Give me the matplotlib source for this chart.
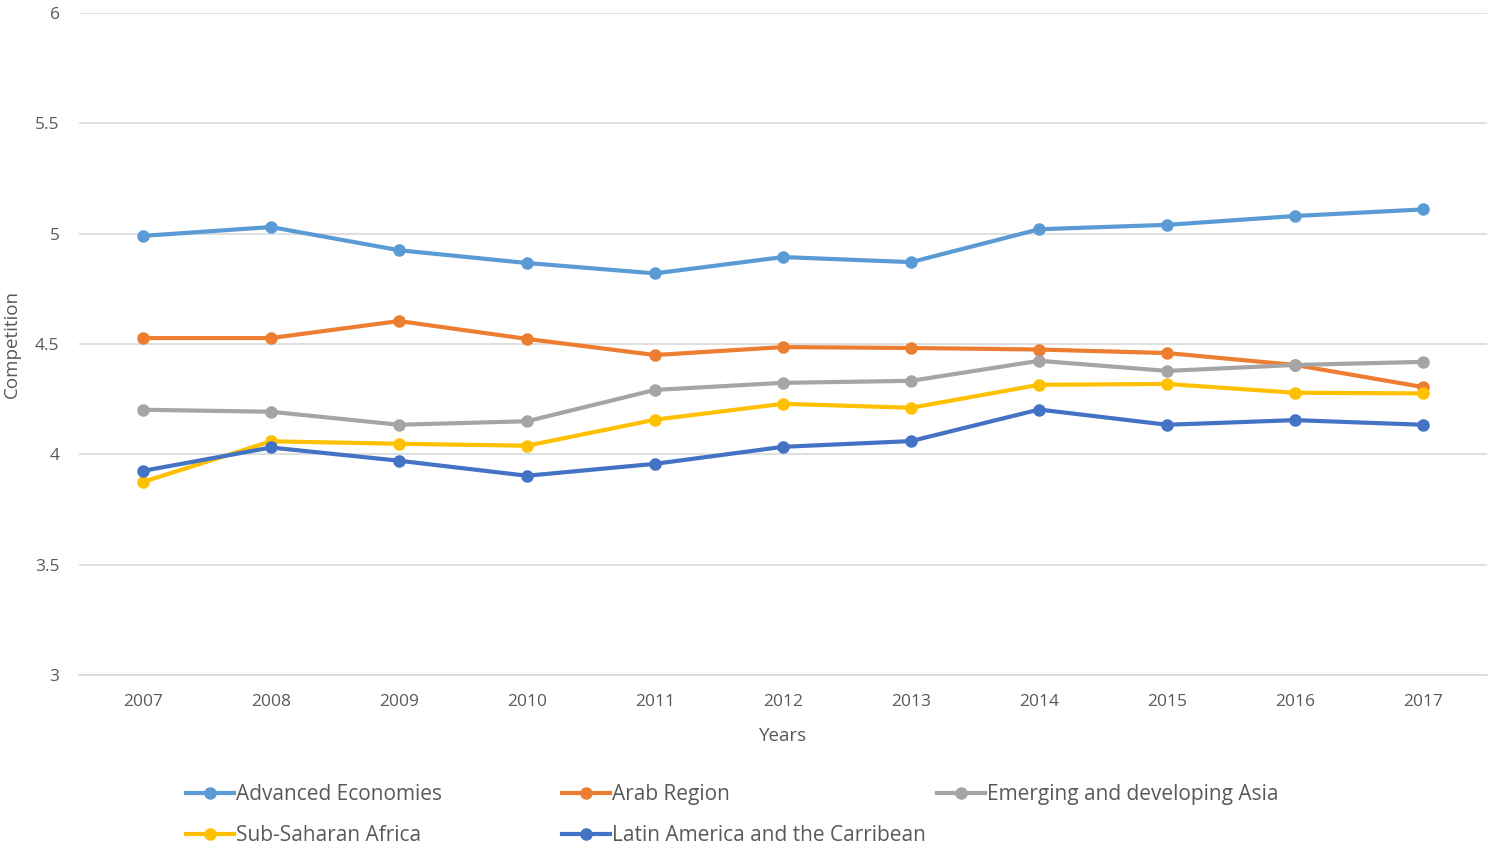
import matplotlib.pyplot as plt
from matplotlib.lines import Line2D

years = ['2007', '2008', '2009', '2010', '2011', '2012', '2013', '2014', '2015', '2016', '2017']

advanced = [4.99, 5.03, 4.925, 4.867, 4.82, 4.894, 4.871, 5.02, 5.04, 5.08, 5.11]
arab = [4.527, 4.527, 4.604, 4.523, 4.45, 4.486, 4.482, 4.475, 4.459, 4.405, 4.305]
asia = [4.202, 4.193, 4.134, 4.15, 4.292, 4.324, 4.333, 4.424, 4.378, 4.405, 4.419]
ssa = [3.875, 4.059, 4.048, 4.039, 4.157, 4.229, 4.211, 4.315, 4.319, 4.279, 4.276]
latam = [3.925, 4.031, 3.971, 3.903, 3.957, 4.034, 4.06, 4.203, 4.134, 4.155, 4.134]

series = [
    ('Advanced Economies', advanced, '#5B9BD5'),
    ('Arab Region', arab, '#ED7D31'),
    ('Emerging and developing Asia', asia, '#A5A5A5'),
    ('Sub-Saharan Africa', ssa, '#FFC000'),
    ('Latin America and the Carribean', latam, '#4472C4'),
]

plt.rcParams['font.family'] = ['Open Sans', 'DejaVu Sans']
txt = '#595959'

fig = plt.figure(figsize=(14.89, 8.49), dpi=100)
ax = fig.add_axes([79 / 1489, 1 - 675 / 849, 1408 / 1489, 662 / 849])

x = list(range(len(years)))
for name, vals, col in series:
    ax.plot(x, vals, color=col, linewidth=3, marker='o', markersize=8, label=name, zorder=3)

ax.set_xlim(-0.5, len(years) - 0.5)
ax.set_ylim(3, 6)
ax.set_yticks([3, 3.5, 4, 4.5, 5, 5.5, 6])
ax.set_yticklabels(['3', '3.5', '4', '4.5', '5', '5.5', '6'])
ax.set_xticks(x)
ax.set_xticklabels(years)
ax.grid(axis='y', color='#D9D9D9', linewidth=1.2)
ax.set_axisbelow(True)
for s in ['top', 'right', 'left']:
    ax.spines[s].set_visible(False)
ax.spines['bottom'].set_color('#D9D9D9')
ax.spines['bottom'].set_linewidth(1.2)
ax.tick_params(axis='both', length=0, labelsize=12.5, labelcolor=txt)
ax.tick_params(axis='y', pad=14)
ax.tick_params(axis='x', pad=14)
ax.set_xlabel('Years', fontsize=13.5, color=txt, labelpad=12)
ax.set_ylabel('Competition', fontsize=13.5, color=txt, labelpad=10)

handles = [Line2D([0], [0], color=c, linewidth=3, marker='o', markersize=8) for _, _, c in series]
cols = [[0, 3], [1, 4], [2]]
xpos = [186, 562, 937]
for xp, idx in zip(xpos, cols):
    fig.legend([handles[i] for i in idx], [series[i][0] for i in idx],
               loc='upper left', bbox_to_anchor=(xp / 1489, 1 - 784 / 849),
               frameon=False, fontsize=15, labelcolor=txt, handlelength=2.3,
               handletextpad=0.1, labelspacing=0.95, borderpad=0, borderaxespad=0)

fig.savefig('out.png', dpi=100)
